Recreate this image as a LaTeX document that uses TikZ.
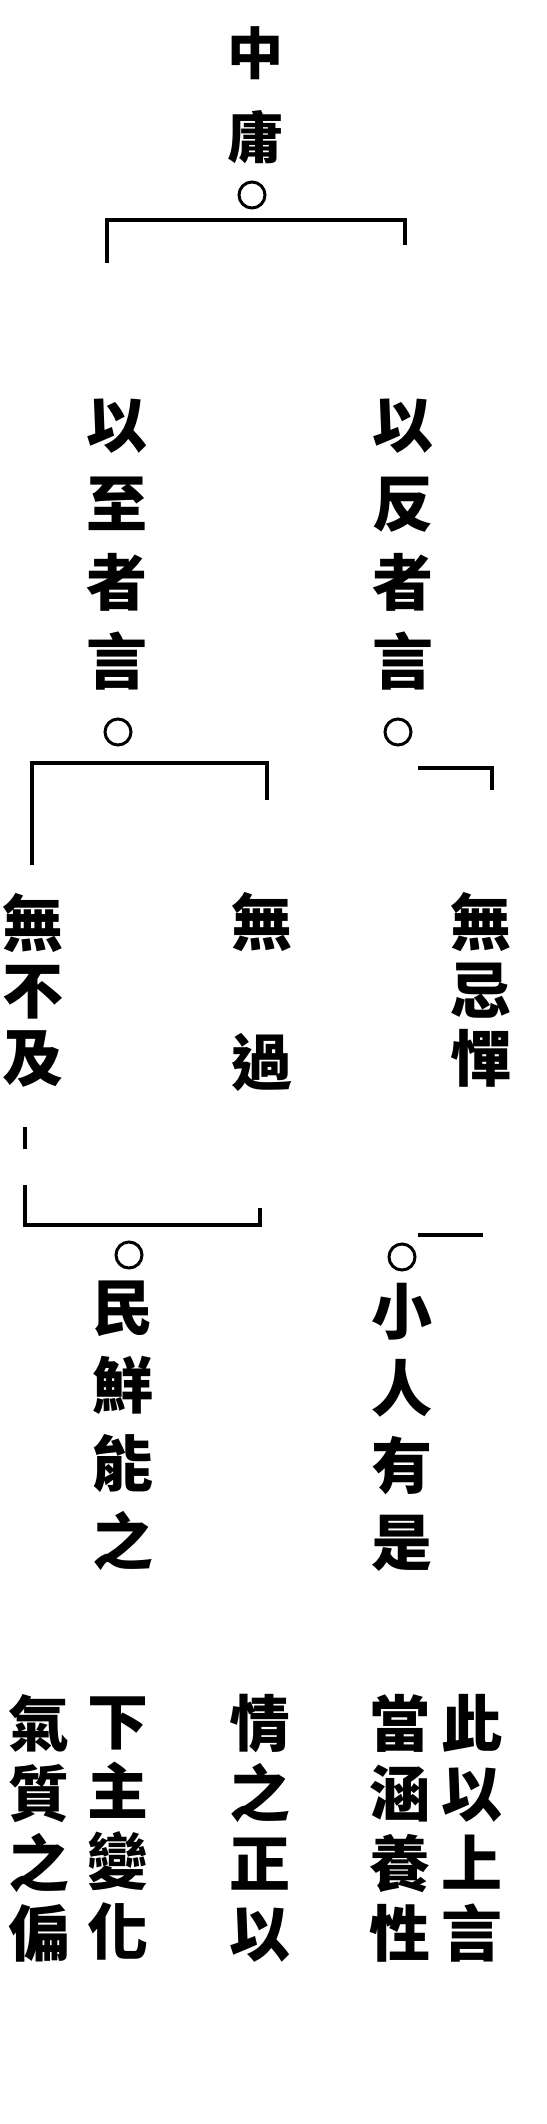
\documentclass[tikz,border=0pt]{standalone}
\usepackage{fontspec}
\newfontfamily\cjk{Noto Sans CJK TC}
\begin{document}
\begin{tikzpicture}
  [x=1pt,y=-1pt,
   col/.style={align=center,inner sep=0pt,font=\cjk\bfseries\fontsize{61}{#1}\selectfont},
   ring/.style={circle,draw,line width=3pt,minimum size=26pt,inner sep=0pt},
   brk/.style={line width=3.2pt}]
  \useasboundingbox (0,0) rectangle (546,2124);

  % top
  \node[col=84,font=\cjk\bfseries\fontsize{56}{84}\selectfont] (n0) at (255,95) {中\\庸};
  \node[ring] (o0) at (252,195) {};
  \coordinate (k1l) at (107,263);
  \coordinate (k1r) at (405,245);
  \draw[brk] (k1l) -- ++(0,-43) -| (k1r);

  % second row
  \node[col=79] (n1) at (117,545) {以\\至\\者\\言};
  \node[col=79] (n2) at (403,545) {以\\反\\者\\言};
  \node[ring] (o1) at (118,732) {};
  \node[ring] (o2) at (398,732) {};
  \coordinate (k2l) at (32,865);
  \coordinate (k2r) at (267,800);
  \draw[brk] (k2l) -- ++(0,-102) -| (k2r);
  \coordinate (k2a) at (418,768);
  \draw[brk] (k2a) -| ++(74,22);

  % third row
  \node[col=67] (n3) at (33,990) {無\\不\\及};
  \node[col=70] (n4) at (262,992) {無\\\mbox{}\\過};
  \node[col=68] (n5) at (481,990) {無\\忌\\憚};
  \coordinate (k3l) at (25,1207);
  \coordinate (k3r) at (260,1208);
  \draw[brk,dash pattern=on 22pt off 36pt] (k3l) -- ++(0,-95);
  \draw[brk] (k3l) -- ++(0,18) -| (k3r);
  \coordinate (k3a) at (418,1235);
  \draw[brk] (k3a) -- ++(65,0);

  % fourth row
  \node[ring] (o3) at (129,1255) {};
  \node[ring] (o4) at (402,1257) {};
  \node[col=78] (n6) at (123,1426) {民\\鮮\\能\\之};
  \node[col=77] (n7) at (402,1427) {小\\人\\有\\是};

  % note
  \node[col=70] (m1) at (472,1828) {此\\以\\上\\言};
  \node[col=70] (m2) at (400,1828) {當\\涵\\養\\性};
  \node[col=70] (m3) at (260,1828) {情\\之\\正\\以};
  \node[col=70] (m4) at (118,1828) {下\\主\\變\\化};
  \node[col=70] (m5) at (39,1828)  {氣\\質\\之\\偏};
\end{tikzpicture}
\end{document}
